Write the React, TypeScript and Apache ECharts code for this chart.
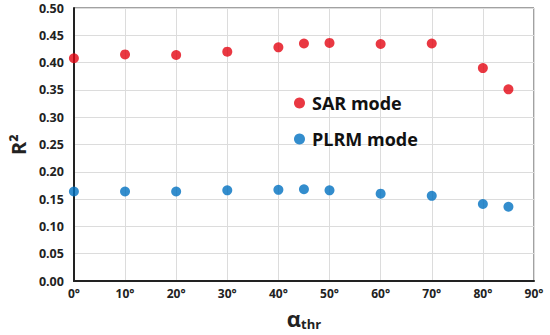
import React, { useEffect, useRef } from "react";
import * as echarts from "echarts";

const angles = [0, 10, 20, 30, 40, 45, 50, 60, 70, 80, 85];
const sarValues = [0.408, 0.415, 0.414, 0.42, 0.428, 0.435, 0.436, 0.434, 0.435, 0.39, 0.351];
const plrmValues = [0.164, 0.164, 0.164, 0.166, 0.167, 0.168, 0.166, 0.16, 0.156, 0.141, 0.136];
const seriesNames = ["SAR mode", "PLRM mode"];
const colors = ["#e30613", "#0070c0"];

export default function App() {
  const ref = useRef<HTMLDivElement>(null);
  useEffect(() => {
    document.body.style.margin = "0";
    if (!ref.current) return;
    const chart = echarts.init(ref.current, null, { renderer: "svg" });
    const font = "'Open Sans', 'Noto Sans', sans-serif";
    chart.setOption({
      animation: false,
      backgroundColor: "#ffffff",
      textStyle: { fontFamily: font },
      grid: {
        left: 72,
        right: 16,
        top: 8,
        bottom: 48,
        show: true,
        borderColor: "#444",
        borderWidth: 1,
      },
      legend: {
        orient: "vertical",
        left: 289,
        top: 89,
        itemGap: 18,
        itemWidth: 11,
        itemHeight: 11,
        icon: "circle",
        textStyle: { fontSize: 18, fontWeight: "bold", color: "#111", fontFamily: font, padding: [0, 0, 0, 2] },
        data: seriesNames,
      },
      xAxis: {
        type: "value",
        min: 0,
        max: 90,
        interval: 10,
        axisLine: { show: true, lineStyle: { color: "#222", width: 2 } },
        axisTick: { show: false },
        splitLine: { show: true, lineStyle: { color: "#dcdcdc", width: 1 } },
        axisLabel: {
          formatter: (v: number) => v + "°",
          fontSize: 12,
          fontWeight: "bold",
          color: "#222",
          margin: 6,
        },
        name: "{a|α}{s|thr}",
        nameLocation: "middle",
        nameGap: 24,
        nameTextStyle: {
          rich: {
            a: { fontSize: 22, fontWeight: "bold", color: "#222", fontFamily: font },
            s: { fontSize: 13, fontWeight: "bold", color: "#222", fontFamily: font, padding: [12, 0, 0, 0] },
          },
        },
      },
      yAxis: {
        type: "value",
        min: 0,
        max: 0.5,
        interval: 0.05,
        axisLine: { show: true, lineStyle: { color: "#222", width: 2 } },
        axisTick: { show: false },
        splitLine: { show: true, lineStyle: { color: "#dcdcdc", width: 1 } },
        axisLabel: {
          formatter: (v: number) => v.toFixed(2),
          fontSize: 12.5,
          fontWeight: "bold",
          color: "#222",
          margin: 10,
        },
        name: "R²",
        nameLocation: "middle",
        nameGap: 44,
        nameRotate: 90,
        nameTextStyle: { fontSize: 20, fontWeight: "bold", color: "#222", fontFamily: font },
      },
      series: [
        {
          name: seriesNames[0],
          type: "scatter",
          symbol: "circle",
          symbolSize: 10,
          itemStyle: { color: colors[0] },
          data: angles.map((a, i) => [a, sarValues[i]]),
          clip: false,
        },
        {
          name: seriesNames[1],
          type: "scatter",
          symbol: "circle",
          symbolSize: 10,
          itemStyle: { color: colors[1] },
          data: angles.map((a, i) => [a, plrmValues[i]]),
          clip: false,
        },
      ],
    });
    return () => chart.dispose();
  }, []);
  return <div ref={ref} style={{ width: 550, height: 335 }} />;
}
